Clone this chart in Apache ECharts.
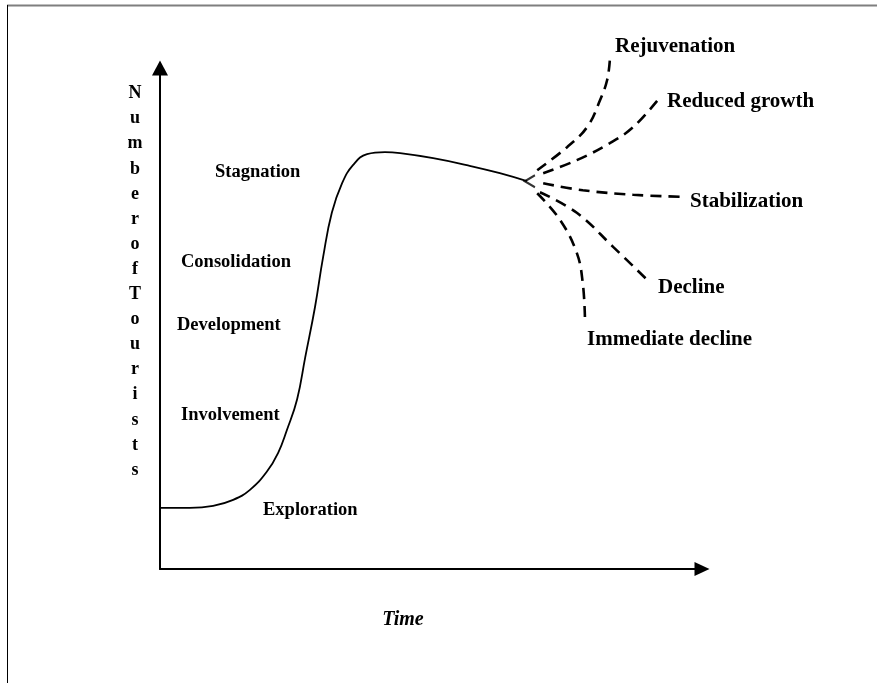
<!DOCTYPE html>
<html>
<head>
<meta charset="utf-8">
<script src="https://cdn.jsdelivr.net/npm/echarts@6/dist/echarts.min.js"></script>
<style>
  html, body { margin: 0; padding: 0; background: #fff; }
  #chart { width: 877px; height: 683px; }
</style>
</head>
<body>
<div id="chart"></div>
<script>
  // main life cycle curve (time, number of tourists)
  var cycleTime = [0, 5.5, 9.8, 13.5, 16.6, 19.7, 21.8, 23.4, 25.3, 26.8, 28.6, 30.1, 31.7, 33.6, 35.6, 38.2, 41.5, 44.3, 50.4, 56.6, 62.7, 67.7];
  var cycleTourists = [12.2, 12.2, 12.6, 13.8, 15.8, 19.4, 23.2, 27.7, 33.9, 42.3, 52.3, 62.3, 71.1, 77.0, 80.6, 82.8, 83.2, 83.0, 82.0, 80.6, 79.0, 77.4];

  // possible future paths after stagnation
  var rejuvenation = [[69.6, 79.6], [75.1, 84.2], [78.8, 88.2], [81.2, 93.6], [82.5, 97.6], [83.0, 101.6]];
  var reducedGrowth = [[70.7, 79.0], [76.9, 81.6], [83.0, 85.0], [87.3, 88.2], [92.3, 94.2]];
  var stabilization = [[70.7, 77.0], [78.0, 75.6], [87.3, 74.7], [95.9, 74.3]];
  var decline = [[70.1, 75.2], [76.9, 71.1], [83.6, 64.3], [89.9, 57.7]];
  var immediateDecline = [[69.6, 75.0], [73.8, 69.7], [76.9, 63.1], [78.0, 57.1], [78.4, 50.3]];

  var stageNames = ['Stagnation', 'Consolidation', 'Development', 'Involvement', 'Exploration'];
  var outcomeNames = ['Rejuvenation', 'Reduced growth', 'Stabilization', 'Decline', 'Immediate decline'];
  var yTitle = 'NumberofTourists';
  var xTitle = 'Time';

  var chart = echarts.init(document.getElementById('chart'));

  var serif = '"Liberation Serif", "Times New Roman", serif';
  var stagePos = [[215, 172], [181, 262], [177, 325], [181, 415], [263, 510]];
  var outcomePos = [[615, 47], [667, 102], [690, 202], [658, 288], [587, 340]];

  function label(text, pos, size) {
    return {
      type: 'text', x: pos[0], y: pos[1], silent: true,
      style: { text: text, font: 'bold ' + size + 'px ' + serif, fill: '#000', align: 'left', verticalAlign: 'middle' }
    };
  }

  var graphics = [
    // page frame
    { type: 'line', shape: { x1: 7, y1: 5.5, x2: 877, y2: 5.5 }, style: { stroke: '#7f7f7f', lineWidth: 2 } },
    { type: 'line', shape: { x1: 7.5, y1: 5, x2: 7.5, y2: 683 }, style: { stroke: '#000', lineWidth: 1 } },
    {
      type: 'text', x: 135, y: 81,
      style: { text: yTitle.split('').join('\n'), font: 'bold 18px ' + serif, lineHeight: 25.1, fill: '#000', align: 'center', verticalAlign: 'top' }
    },
    {
      type: 'text', x: 403, y: 620,
      style: { text: xTitle, font: 'bold italic 20px ' + serif, fill: '#000', align: 'center', verticalAlign: 'middle' }
    }
  ];
  stageNames.forEach(function (n, i) { graphics.push(label(n, stagePos[i], 18.5)); });
  outcomeNames.forEach(function (n, i) { graphics.push(label(n, outcomePos[i], 21)); });

  function dashed(data) {
    return {
      type: 'line', data: data, smooth: 0.4, clip: false, symbol: 'none', silent: true,
      lineStyle: { color: '#000', width: 2.6, type: [11, 7] }
    };
  }

  var mainCurve = cycleTime.map(function (t, i) { return [t, cycleTourists[i]]; });

  var option = {
    animation: false,
    backgroundColor: '#fff',
    grid: { left: 160, right: 175, top: 68, bottom: 114 },
    xAxis: {
      type: 'value', min: 0, max: 100,
      axisLine: { show: true, onZero: false, symbol: ['none', 'triangle'], symbolSize: [14, 15], lineStyle: { color: '#000', width: 2 } },
      axisTick: { show: false }, axisLabel: { show: false }, splitLine: { show: false }
    },
    yAxis: {
      type: 'value', min: 0, max: 100,
      axisLine: { show: true, onZero: false, symbol: ['none', 'triangle'], symbolSize: [16, 15], lineStyle: { color: '#000', width: 2 } },
      axisTick: { show: false }, axisLabel: { show: false }, splitLine: { show: false }
    },
    graphic: graphics,
    series: [
      {
        type: 'line', data: mainCurve, smooth: 0.45, symbol: 'none', clip: false, silent: true,
        lineStyle: { color: '#000', width: 1.8 }
      },
      {
        type: 'scatter', data: [mainCurve[mainCurve.length - 1]], clip: false, silent: true,
        symbol: 'path://M10,0 L0,5 L10,10', symbolSize: [10, 12], symbolOffset: [3, 0],
        itemStyle: { color: 'none', borderColor: '#000', borderWidth: 2.2 }
      },
      dashed(rejuvenation),
      dashed(reducedGrowth),
      dashed(stabilization),
      dashed(decline),
      dashed(immediateDecline)
    ]
  };

  chart.setOption(option);
</script>
</body>
</html>
